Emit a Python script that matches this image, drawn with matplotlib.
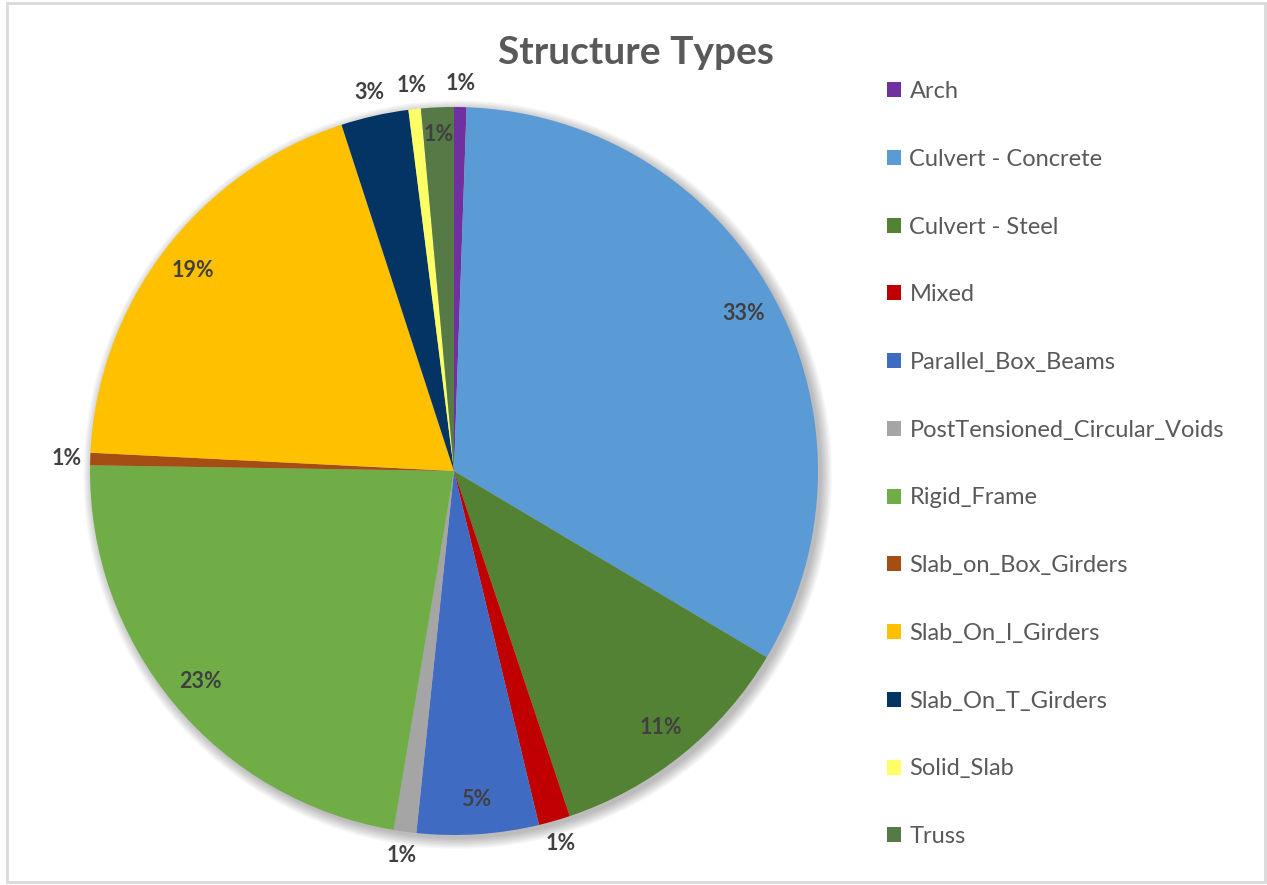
import numpy as np
import matplotlib
matplotlib.use("Agg")
import matplotlib.pyplot as plt
from matplotlib.patches import Rectangle, Circle

# Share of each structure type (percent)
categories = ["Arch", "Culvert - Concrete", "Culvert - Steel", "Mixed",
              "Parallel_Box_Beams", "PostTensioned_Circular_Voids", "Rigid_Frame",
              "Slab_on_Box_Girders", "Slab_On_I_Girders", "Slab_On_T_Girders",
              "Solid_Slab", "Truss"]
shares = [0.55, 33.0, 11.3, 1.4, 5.4, 1.0, 22.6, 0.55, 19.2, 3.0, 0.55, 1.45]
colors = ["#7030A0", "#5B9BD5", "#548235", "#C00000", "#3F6CC2", "#A5A5A5",
          "#70AD47", "#A64D13", "#FFC000", "#033463", "#FFFF66", "#557A45"]
# slices whose percentage sits outside the pie
outside = [True, False, False, True, False, True, False, True, False, True, True, False]

W, H = 1267, 885
fig = plt.figure(figsize=(W / 100, H / 100), dpi=100)
fig.patch.set_facecolor("white")

# chart border
fig.patches.append(Rectangle((7 / W, 3 / H), (1265 - 7) / W, (882 - 3) / H,
                             transform=fig.transFigure, fill=False,
                             edgecolor="#D9D9D9", linewidth=2))

cx, cy, R = 454, 471, 364
half = 420
ax = fig.add_axes([(cx - half) / W, (H - cy - half) / H, 2 * half / W, 2 * half / H])
lim = half / R
ax.set_xlim(-lim, lim)
ax.set_ylim(-lim, lim)
ax.set_aspect("equal")
ax.axis("off")

# soft shadow beneath the pie
for i in range(8):
    ax.add_patch(Circle((0.010, -0.010), 1.0 + i * 0.004, color="black",
                        alpha=0.035, linewidth=0, zorder=0))

wedges, _ = ax.pie(shares, colors=colors, startangle=90, counterclock=False,
                   radius=1.0, wedgeprops=dict(linewidth=0), frame=False)
for w in wedges:
    w.set_zorder(2)
ax.set_xlim(-lim, lim)
ax.set_ylim(-lim, lim)

for w, v, out, name in zip(wedges, shares, outside, categories):
    mid = np.deg2rad((w.theta1 + w.theta2) / 2)
    r = 1.065 if out else (0.925 if name == "Truss" else 0.905)
    ax.text(r * np.cos(mid), r * np.sin(mid), f"{v:.0f}%", ha="center",
            va="center", fontsize=15.5, fontweight="bold", color="#404040",
            family="Lato", zorder=5)

fig.text(636 / W, 1 - 52 / H, "Structure Types", ha="center", va="center",
         fontsize=28, fontweight="bold", color="#595959", family="Lato")

leg = fig.legend(wedges, categories, loc="upper left",
                 bbox_to_anchor=(887 / W, 1 - 81 / H), frameon=False,
                 prop=dict(family="Lato", size=17), labelcolor="#595959",
                 handlelength=0.6, handleheight=0.6, handletextpad=0.35,
                 labelspacing=1.98, borderpad=0, borderaxespad=0)

fig.savefig("out.png", dpi=100, facecolor="white")
